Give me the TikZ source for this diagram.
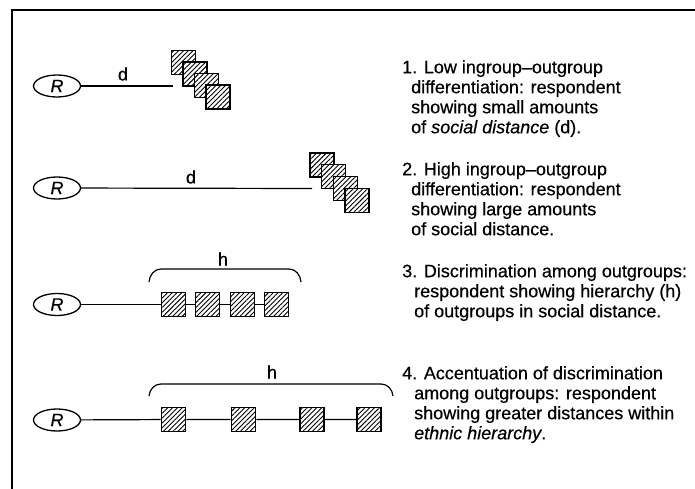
\documentclass[tikz,border=0pt]{standalone}
\usepackage{fontspec}
\setmainfont{Liberation Sans}[FakeBold=0.5]
\usepackage{tikz}
\usetikzlibrary{shapes,positioning,calc,patterns.meta}

\tikzset{
  resp/.style={draw, ellipse, line width=1.3pt, minimum width=47pt, minimum height=22pt, inner sep=0pt, font=\fontsize{18}{20}\selectfont\itshape},
  grp/.style={draw, rectangle, line width=1.6pt, minimum size=24pt, inner sep=0pt, preaction={fill=white}, pattern={Lines[angle=45,distance=3.4pt,line width=0.9pt]}},
  link/.style={line width=1.2pt},
  item/.style={anchor=north west, inner sep=0pt, align=left, font=\fontsize{18}{20}\selectfont},
  lbl/.style={inner sep=0pt, font=\fontsize{18}{20}\selectfont}
}

\begin{document}
\begin{tikzpicture}[x=1pt, y=-1pt]
    \useasboundingbox (0,0) rectangle (695,489);

    % Frame
    \coordinate (fb) at (12,489);
    \coordinate (fc) at (12,10);
    \coordinate (fr) at (695,10);
    \draw [line width=1.6pt] (fb) -- (fc) -- (fr);

    % Row 1: low differentiation
    \node [resp] (r1) at (57,86) {R};
    \coordinate (e1) at (173,86);
    \draw [link] (r1) -- (e1);
    \node [lbl] (d1) at (123,74) {d};
    \node [grp] (s11) at (183.5,62.5) {};
    \node [grp] (s12) at (195,74) {};
    \node [grp] (s13) at (206.5,85.5) {};
    \node [grp] (s14) at (218,97) {};

    % Row 2: high differentiation
    \node [resp] (r2) at (57,188) {R};
    \coordinate (e2) at (312,188.5);
    \draw [link] (r2) -- (e2);
    \node [lbl] (d2) at (191,177) {d};
    \node [grp] (s21) at (322,165) {};
    \node [grp] (s22) at (333.5,176.5) {};
    \node [grp] (s23) at (345.5,188.5) {};
    \node [grp] (s24) at (357,200.5) {};

    % Row 3: hierarchy
    \node [resp] (r3) at (57,304.5) {R};
    \node [grp] (s31) at (173.5,304.5) {};
    \node [grp] (s32) at (207.5,304.5) {};
    \node [grp] (s33) at (242.5,304.5) {};
    \node [grp] (s34) at (276.5,304.5) {};
    \draw [link] (r3) -- (s31) -- (s32) -- (s33) -- (s34);
    \coordinate (b3a) at (149,282);
    \coordinate (b3b) at (301,282);
    \draw [link] (b3a) to[out=85,in=180] ($(b3a)+(12,-13)$) -- ($(b3b)+(-12,-13)$) to[out=0,in=95] (b3b);
    \node [lbl] (h3) at (223,259) {h};

    % Row 4: accentuated hierarchy
    \node [resp] (r4) at (57,420) {R};
    \node [grp] (s41) at (173.5,419.5) {};
    \node [grp] (s42) at (243.5,419.5) {};
    \node [grp] (s43) at (312,419.5) {};
    \node [grp] (s44) at (369,419.5) {};
    \draw [link] (r4) -- (s41) -- (s42) -- (s43) -- (s44);
    \coordinate (b4a) at (149,396);
    \coordinate (b4b) at (393,396);
    \draw [link] (b4a) to[out=85,in=180] ($(b4a)+(12,-12)$) -- ($(b4b)+(-12,-12)$) to[out=0,in=95] (b4b);
    \node [lbl] (h4) at (272,372) {h};

    % Captions
    \node [item] (t1) at (402,60) {1. Low ingroup–outgroup\\\hspace*{9pt}differentiation: respondent\\\hspace*{9pt}showing small amounts\\\hspace*{9pt}of \textit{social distance} (d).};
    \node [item] (t2) at (402,162) {2. High ingroup–outgroup\\\hspace*{9pt}differentiation: respondent\\\hspace*{9pt}showing large amounts\\\hspace*{9pt}of social distance.};
    \node [item] (t3) at (402,264) {3. Discrimination among outgroups:\\\hspace*{12pt}respondent showing hierarchy (h)\\\hspace*{12pt}of outgroups in social distance.};
    \node [item] (t4) at (402,366) {4. Accentuation of discrimination\\\hspace*{12pt}among outgroups: respondent\\\hspace*{12pt}showing greater distances within\\\hspace*{12pt}\textit{ethnic hierarchy}.};

\end{tikzpicture}
\end{document}
